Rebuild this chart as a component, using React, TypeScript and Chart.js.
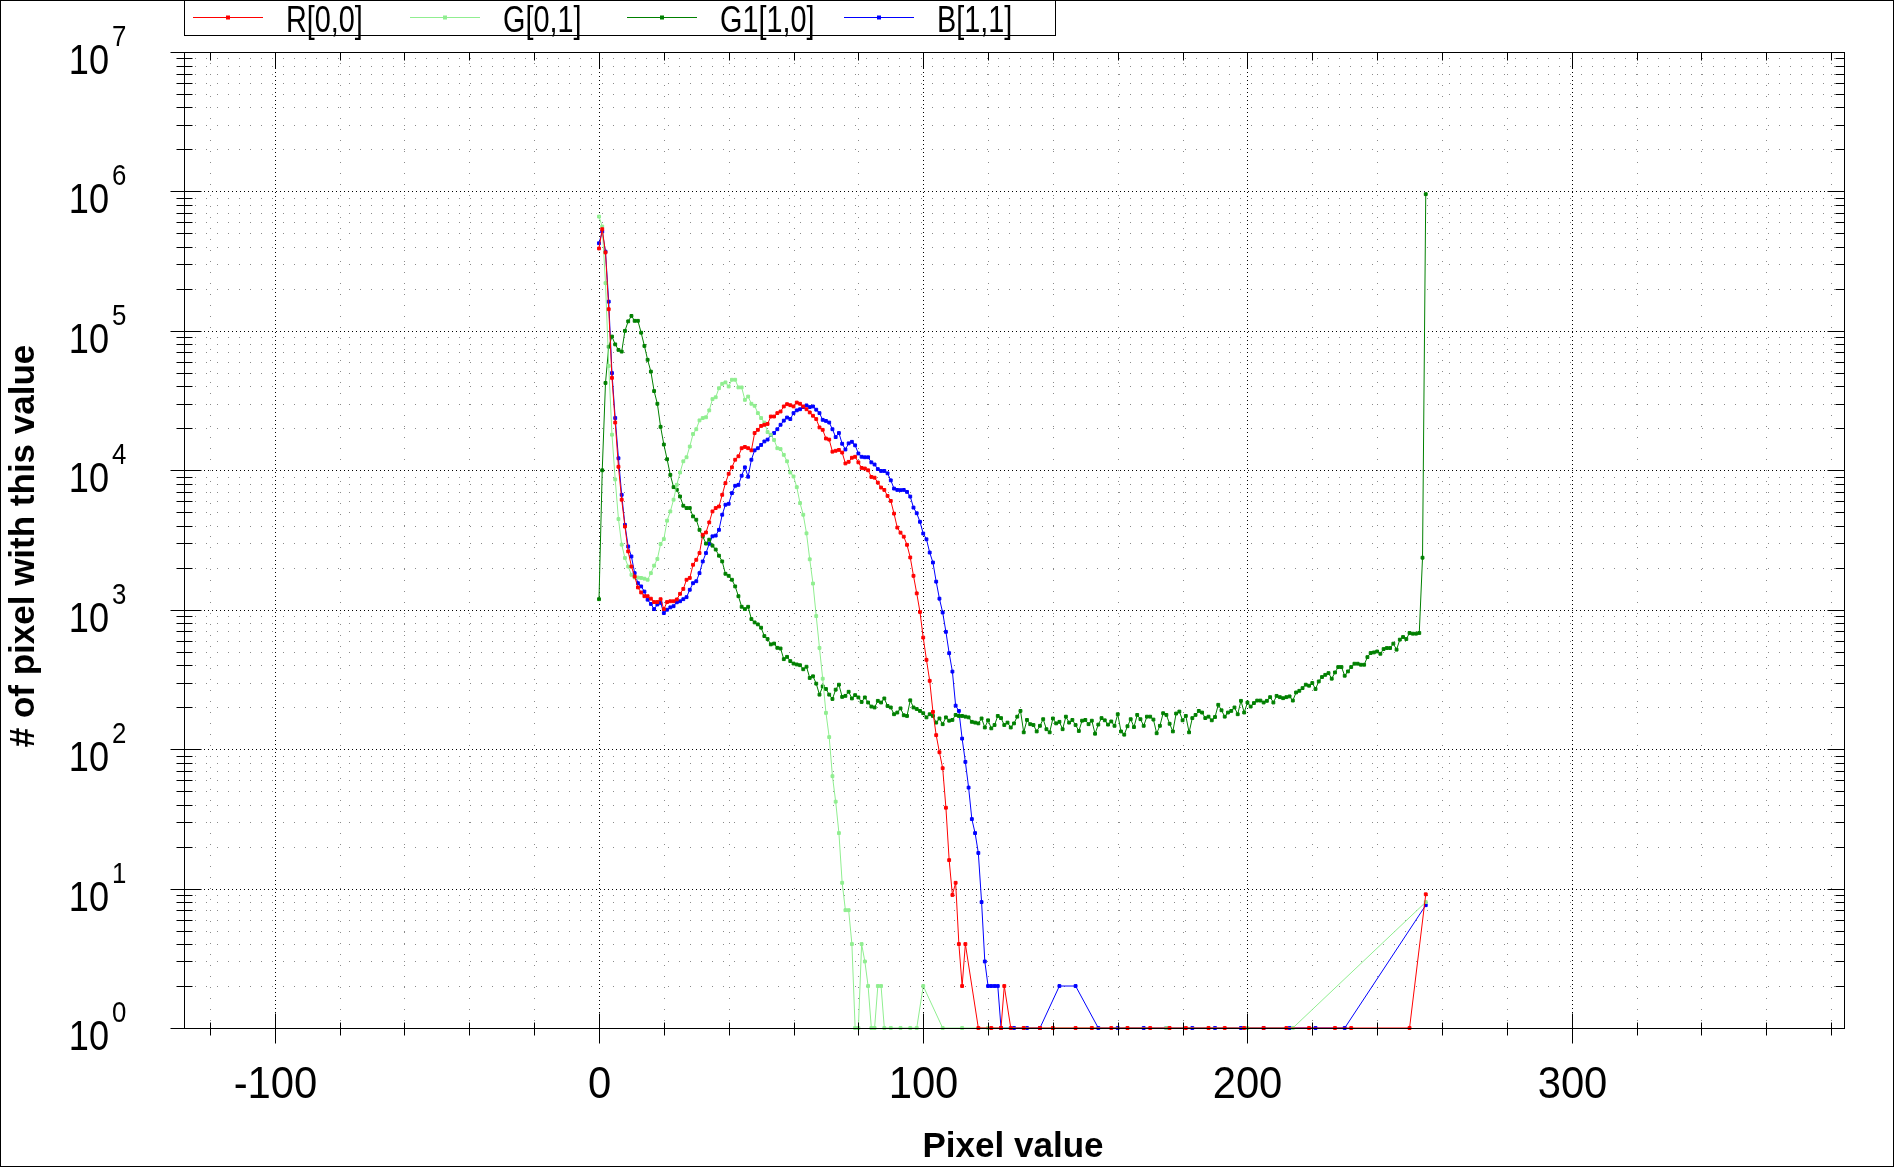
import React, { useEffect, useRef } from 'react';
import Chart from 'chart.js/auto';

const N = null;

// pixel values 0..255 (histogram bins)
const pixelValues: number[] = Array.from({ length: 256 }, (_, i) => i);

const xMajorTicks = [-100, 0, 100, 200, 300];
const xMinorTicks = [-120, -80, -60, -40, -20, 20, 40, 60, 80, 120, 140, 160, 180, 220, 240, 260, 280, 320, 340, 360, 380];
const yDecades = [0, 1, 2, 3, 4, 5, 6, 7];

const seriesNames = ['R[0,0]', 'G[0,1]', 'G1[1,0]', 'B[1,1]'];
const seriesColors = ['#ff0000', '#90ee90', '#008000', '#0000ff'];

const redCounts: (number | null)[] = [
  390000, 536000, 365000, 143000, 46000, 22000, 10600, 6150, 3950, 2620, 2040, 1730, 1445, 1330, 1250, 1250,
  1200, 1135, 1135, 1190, 1010, 1135, 1150, 1150, 1185, 1300, 1410, 1640, 1690, 2100, 2280, 2550,
  3450, 3580, 4230, 5070, 5360, 5500, 6670, 8090, 9440, 10500, 11900, 12600, 14400, 14700, 14400, 13900,
  18500, 19500, 20800, 21200, 21500, 24300, 24300, 25700, 26400, 28700, 29800, 29300, 28700, 30600, 30000, 28700,
  27400, 26000, 24600, 23300, 20300, 19500, 16900, 16600, 13600, 13800, 14000, 13400, 11200, 11500, 12300, 12500,
  11400, 10400, 10300, 10000, 8960, 8850, 8160, 7520, 7230, 6550, 6030, 4890, 3880, 3570, 3340, 2920,
  2370, 1750, 1310, 964, 631, 437, 309, 185, 126, 95, 73, 38, 16, 9, 11, 4,
  2, 4, N, N, N, 1, N, N, N, 1, N, N, 1, 2, N, 1,
  N, N, N, 1, N, N, N, N, 1, N, N, N, 1, N, N, N,
  N, N, N, 1, N, N, N, N, 1, N, N, N, N, N, 1, N,
  N, N, N, 1, N, N, N, N, N, N, 1, N, N, N, N, N,
  1, N, N, N, N, 1, N, N, N, N, N, N, 1, N, N, N,
  N, 1, N, N, N, N, N, 1, N, N, N, N, N, 1, N, N,
  N, N, N, N, 1, N, N, N, N, N, N, 1, N, N, N, N,
  N, N, N, 1, N, N, N, N, 1, N, N, N, N, N, N, N,
  N, N, N, N, N, N, N, N, N, N, 1, N, N, N, N, 9.1,
];

const greenCounts: (number | null)[] = [
  660000, 560000, 220000, 56000, 18000, 8600, 4470, 2930, 2350, 2040, 1780, 1700, 1700, 1690, 1670, 1640,
  1830, 2070, 2310, 2960, 3210, 4350, 5070, 6150, 7870, 9640, 11600, 12400, 14800, 18200, 19700, 22800,
  23700, 24000, 26900, 32400, 33400, 38800, 41700, 42700, 39900, 44600, 44600, 39300, 39300, 32000, 33800, 30000,
  29000, 25700, 23700, 22000, 18800, 18000, 16500, 14400, 14200, 12900, 11600, 9640, 9030, 7570, 5820, 4800,
  3530, 2300, 1540, 900, 532, 320, 182, 122, 64, 42, 25, 11, 7, 7, 4, 1,
  1, 4, 3, 2, 1, 1, 2, 2, 1, N, 1, N, N, 1, N, N,
  1, N, 1, N, 2, N, N, N, N, N, 1, N, N, N, N, N,
  1, N, N, N, N, N, N, N, 1, N, N, N, N, N, N, N,
  N, N, N, 1, N, N, N, N, N, N, N, N, 1, N, N, N,
  N, N, N, N, N, N, N, N, 1, N, N, N, N, N, N, N,
  N, N, N, 1, N, N, N, N, N, N, N, N, N, N, N, 1,
  N, N, N, N, N, N, N, N, N, N, N, N, 1, N, N, N,
  N, N, N, N, N, N, N, N, 1, N, N, N, N, N, N, N,
  N, N, N, N, N, N, 1, N, N, N, N, N, N, N, N, N,
  N, N, N, N, N, N, N, N, N, N, N, N, N, N, N, N,
  N, N, N, N, N, N, N, N, N, N, N, N, N, N, N, 8,
];

const green1Counts: (number | null)[] = [
  1190, 10000, 42300, 77000, 91000, 80000, 73000, 71000, 100000, 117000, 128000, 118000, 118000, 97000, 78000, 62000,
  51000, 37000, 30000, 20500, 15300, 12000, 9270, 7570, 7250, 6490, 5570, 5360, 5360, 4670, 4420, 3740,
  3360, 2980, 3180, 2880, 2700, 2440, 2220, 1810, 1750, 1640, 1470, 1250, 1050, 1010, 1050, 857,
  811, 785, 743, 647, 616, 564, 572, 533, 527, 442, 459, 428, 411, 405, 400, 374,
  390, 324, 333, 295, 246, 282, 270, 246, 229, 267, 290, 237, 241, 258, 231, 244,
  235, 218, 235, 216, 202, 199, 222, 216, 231, 204, 199, 178, 183, 196, 175, 173,
  224, 199, 194, 188, 181, 169, 178, 173, 155, 166, 151, 169, 160, 162, 176, 173,
  173, 171, 169, 157, 155, 153, 166, 143, 161, 141, 149, 173, 167, 149, 155, 143,
  153, 171, 188, 132, 162, 151, 149, 134, 147, 164, 139, 132, 166, 153, 157, 139,
  171, 155, 162, 149, 135, 160, 162, 151, 160, 129, 150, 167, 161, 150, 158, 147,
  178, 134, 127, 146, 164, 144, 176, 164, 147, 171, 171, 163, 130, 147, 181, 176,
  152, 134, 180, 186, 161, 173, 132, 167, 176, 188, 183, 167, 171, 161, 170, 208,
  190, 171, 183, 188, 199, 178, 222, 183, 216, 202, 214, 223, 223, 216, 222, 236,
  216, 241, 236, 232, 236, 239, 223, 255, 262, 274, 290, 285, 298, 270, 306, 329,
  341, 351, 320, 355, 388, 388, 336, 361, 388, 410, 410, 403, 403, 457, 489, 494,
  502, 483, 522, 531, 531, 571, 517, 610, 637, 616, 681, 673, 673, 681, 2360, 956000,
];

const blueCounts: (number | null)[] = [
  425000, 515000, 370000, 162000, 49800, 23700, 12200, 6670, 4060, 2840, 2410, 1830, 1550, 1470, 1350, 1180,
  1100, 1010, 1090, 1120, 946, 1000, 1040, 1060, 1130, 1150, 1190, 1230, 1390, 1550, 1600, 1830,
  2220, 2550, 2970, 3360, 3400, 3740, 4800, 5660, 5750, 6860, 7740, 7860, 9140, 10500, 8990, 11900,
  13900, 14400, 15200, 16100, 16600, 17900, 18500, 19700, 21200, 22700, 23900, 23300, 25700, 26900, 27400, 28400,
  29200, 28400, 28700, 27200, 25700, 23000, 22600, 22000, 19700, 17300, 18500, 15500, 14100, 15600, 16000, 15100,
  13200, 12500, 12400, 12400, 11400, 11000, 10200, 9890, 9890, 9510, 8470, 7390, 7230, 7200, 7230, 7000,
  6480, 5400, 4920, 4270, 3520, 3200, 2570, 2180, 1590, 1200, 955, 694, 488, 360, 205, 188,
  119, 81, 53, 31.5, 25, 18, 8, 3, 2, 2, 2, 2, 1, N, N, N,
  1, N, N, N, 1, N, N, N, 1, N, N, N, N, N, 2, N,
  N, N, N, 2, N, N, N, N, N, N, 1, N, N, N, N, N,
  1, N, N, N, N, N, N, N, 1, N, N, N, N, N, N, 1,
  N, N, N, N, N, N, N, 1, N, N, N, N, N, N, 1, N,
  N, N, N, N, N, N, 1, N, N, N, N, N, N, 1, N, N,
  N, N, N, N, N, 1, N, N, N, N, N, N, N, 1, N, N,
  N, N, N, N, N, N, 1, N, N, N, N, N, N, N, N, N,
  N, N, N, N, N, N, N, N, N, N, N, N, N, N, N, 7.6,
];

const allCounts = [redCounts, greenCounts, green1Counts, blueCounts];

const FONT = '"Liberation Sans", Arial, sans-serif';

function drawText(ctx: CanvasRenderingContext2D, s: string, x: number, y: number, font: string, align: CanvasTextAlign, sx = 1) {
  ctx.save();
  ctx.font = font;
  ctx.textAlign = align;
  ctx.textBaseline = 'alphabetic';
  ctx.fillStyle = '#000';
  ctx.translate(x, y);
  ctx.scale(sx, 1);
  ctx.fillText(s, 0, 0);
  ctx.restore();
}

function seg(ctx: CanvasRenderingContext2D, x1: number, y1: number, x2: number, y2: number) {
  ctx.beginPath();
  ctx.moveTo(x1, y1);
  ctx.lineTo(x2, y2);
  ctx.stroke();
}

// grid, axes, labels, legend and outer frame
const framePlugin = {
  id: 'frame',
  beforeDatasetsDraw(chart: any) {
    const { ctx, chartArea: a, scales } = chart;
    const xs = scales.x;
    const ys = scales.y;
    ctx.save();
    ctx.lineWidth = 1;
    // minor grid
    ctx.strokeStyle = '#8a8a8a';
    ctx.setLineDash([1, 10]);
    xMinorTicks.forEach((v) => {
      const px = Math.round(xs.getPixelForValue(v)) + 0.5;
      seg(ctx, px, a.top, px, a.bottom);
    });
    yDecades.slice(0, -1).forEach((d) => {
      for (let m = 2; m <= 9; m++) {
        const py = Math.round(ys.getPixelForValue(m * 10 ** d)) + 0.5;
        seg(ctx, a.left, py, a.right, py);
      }
    });
    // major grid
    ctx.strokeStyle = '#000';
    ctx.setLineDash([1, 3]);
    xMajorTicks.forEach((v) => {
      const px = Math.round(xs.getPixelForValue(v)) + 0.5;
      seg(ctx, px, a.top, px, a.bottom);
    });
    yDecades.forEach((d) => {
      const py = Math.round(ys.getPixelForValue(10 ** d)) + 0.5;
      seg(ctx, a.left, py, a.right, py);
    });
    ctx.restore();
  },
  afterDraw(chart: any) {
    const { ctx, chartArea: a, scales } = chart;
    const xs = scales.x;
    const ys = scales.y;
    const L = Math.round(a.left) + 0.5;
    const R = Math.round(a.right) + 0.5;
    const T = Math.round(a.top) + 0.5;
    const B = Math.round(a.bottom) + 0.5;
    ctx.save();
    ctx.strokeStyle = '#000';
    ctx.lineWidth = 1;
    ctx.setLineDash([]);
    ctx.strokeRect(L, T, R - L, B - T);

    // y ticks, left (crossing) and right (inside)
    yDecades.forEach((d) => {
      const py = Math.round(ys.getPixelForValue(10 ** d)) + 0.5;
      seg(ctx, L - 14, py, L + 17, py);
      seg(ctx, R - 17, py, R, py);
      if (d < 7) {
        for (let m = 2; m <= 9; m++) {
          const qy = Math.round(ys.getPixelForValue(m * 10 ** d)) + 0.5;
          seg(ctx, L - 8, qy, L + 8, qy);
          seg(ctx, R - 9, qy, R, qy);
        }
      }
      drawText(ctx, '10', 109, py + 21, `42px ${FONT}`, 'right', 0.86);
      drawText(ctx, String(d), 112, py - 7, `30px ${FONT}`, 'left', 0.86);
    });

    // x ticks, bottom and top
    xMajorTicks.forEach((v) => {
      const px = Math.round(xs.getPixelForValue(v)) + 0.5;
      seg(ctx, px, B - 15, px, B + 15);
      seg(ctx, px, T, px, T + 16);
      drawText(ctx, String(v), px, 1098, `44px ${FONT}`, 'center', 0.95);
    });
    xMinorTicks.forEach((v) => {
      const px = Math.round(xs.getPixelForValue(v)) + 0.5;
      seg(ctx, px, B - 6, px, B + 7);
      seg(ctx, px, T, px, T + 8);
    });

    // axis titles
    drawText(ctx, 'Pixel value', (a.left + a.right) / 2 - 1, 1157, `bold 35px ${FONT}`, 'center');
    ctx.save();
    ctx.translate(34, (a.top + a.bottom) / 2 + 6);
    ctx.rotate(-Math.PI / 2);
    drawText(ctx, '# of pixel with this value', 0, 0, `bold 35px ${FONT}`, 'center');
    ctx.restore();

    // legend
    ctx.strokeRect(184.5, 0.5, 871, 35);
    seriesNames.forEach((name, i) => {
      const x0 = 193 + 217 * i;
      ctx.strokeStyle = seriesColors[i];
      seg(ctx, x0, 17.5, x0 + 70, 17.5);
      ctx.fillStyle = seriesColors[i];
      ctx.fillRect(x0 + 33, 15.5, 4, 4);
      drawText(ctx, name, x0 + 93, 32, `36px ${FONT}`, 'left', 0.8);
    });

    // outer border of the picture
    ctx.strokeStyle = '#000';
    ctx.strokeRect(0.5, 0.5, 1893, 1166);
    ctx.restore();
  },
};

const App: React.FC = () => {
  const canvasRef = useRef<HTMLCanvasElement>(null);

  useEffect(() => {
    if (!canvasRef.current) return;
    const chart = new Chart(canvasRef.current, {
      type: 'line',
      data: {
        datasets: seriesNames.map((name, i) => ({
          label: name,
          data: pixelValues.map((p, j) => ({ x: p, y: allCounts[i][j] })),
          borderColor: seriesColors[i],
          backgroundColor: seriesColors[i],
          borderWidth: 1,
          pointStyle: 'rect',
          pointRadius: 2,
          pointBorderWidth: 1,
          pointHoverRadius: 2,
          spanGaps: true,
          tension: 0,
          clip: false,
          fill: false,
        })),
      },
      options: {
        animation: false,
        responsive: false,
        devicePixelRatio: 1,
        events: [],
        layout: { padding: { left: 184, right: 51, top: 52, bottom: 141 } },
        scales: {
          x: { type: 'linear', min: -128, max: 384, display: false },
          y: { type: 'logarithmic', min: 1, max: 1e7, display: false },
        },
        plugins: {
          legend: { display: false },
          tooltip: { enabled: false },
        },
      },
      plugins: [framePlugin],
    } as any);
    return () => {
      chart.destroy();
    };
  }, []);

  return (
    <div style={{ position: 'absolute', left: 0, top: 0, width: 1895, height: 1169, background: '#fff' }}>
      <canvas ref={canvasRef} width={1895} height={1169} style={{ width: 1895, height: 1169, display: 'block' }} />
    </div>
  );
};

export default App;
